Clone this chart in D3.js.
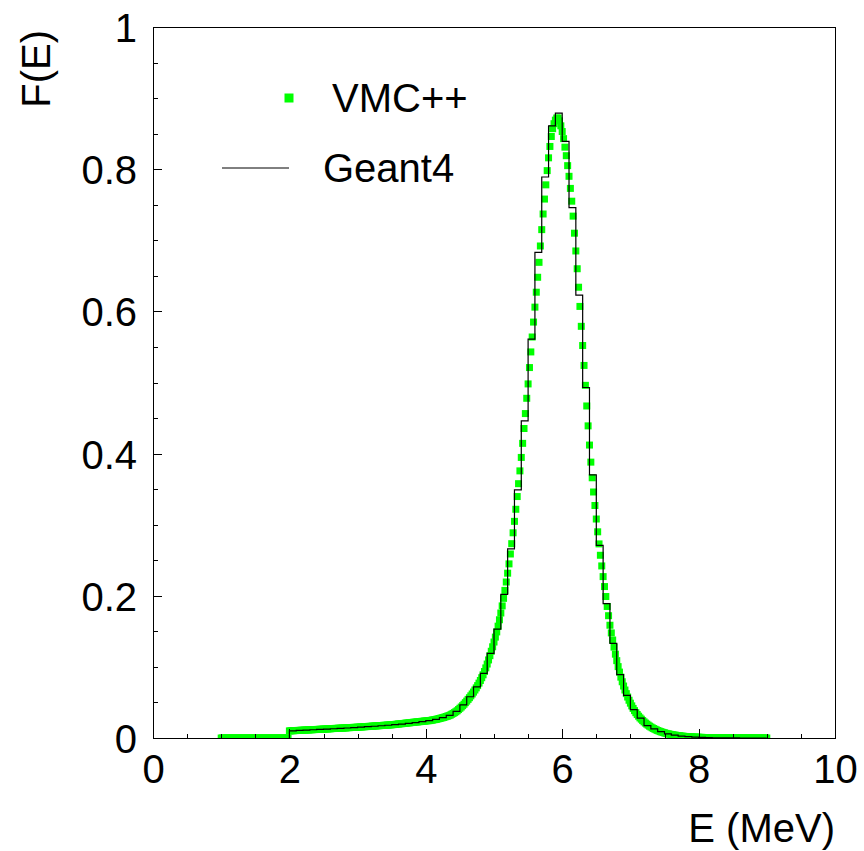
<!DOCTYPE html>
<html>
<head>
<meta charset="utf-8">
<script src="https://cdn.jsdelivr.net/npm/d3@7"></script>
<style>
  html, body { margin: 0; padding: 0; background: #fff; }
  svg { display: block; }
  text { font-family: "Liberation Sans", Arial, Helvetica, sans-serif; fill: #000; }
</style>
</head>
<body>
<svg id="chart" width="864" height="851"></svg>
<script>
// ---------------- data ----------------
const seriesNames = ["VMC++", "Geant4"];
const xTickLabels = ["0", "2", "4", "6", "8", "10"];
const yTickLabels = ["0", "0.2", "0.4", "0.6", "0.8", "1"];
const xTitle = "E (MeV)";
const yTitle = "F(E)";

// VMC++ : points from 1.00 MeV to 9.00 MeV, every 0.02 MeV
const vmcEStart = 1.0;
const vmcEStep = 0.02;
const vmcValues = [
  // 1.00 - 1.98
  0,0,0,0,0,0,0,0,0,0, 0,0,0,0,0,0,0,0,0,0, 0,0,0,0,0,0,0,0,0,0, 0,0,0,0,0,0,0,0,0,0, 0,0,0,0,0,0,0,0,0,0,
  // 2.00 - 2.48
  0.0100,0.0101,0.0102,0.0103,0.0104,0.0105,0.0106,0.0107,0.0108,0.0109,0.0110,0.0111,0.0112,0.0113,0.0114,0.0115,0.0116,0.0117,0.0118,0.0119,0.0120,0.0121,0.0122,0.0123,0.0124,
  // 2.50 - 2.98
  0.0125,0.0126,0.0127,0.0128,0.0129,0.0130,0.0132,0.0133,0.0134,0.0135,0.0136,0.0137,0.0138,0.0139,0.0140,0.0141,0.0142,0.0144,0.0145,0.0146,0.0147,0.0148,0.0149,0.0150,0.0151,
  // 3.00 - 3.48
  0.0152,0.0153,0.0155,0.0156,0.0157,0.0159,0.0160,0.0161,0.0163,0.0164,0.0165,0.0167,0.0168,0.0170,0.0171,0.0172,0.0174,0.0175,0.0176,0.0178,0.0179,0.0180,0.0182,0.0183,0.0185,
  // 3.50 - 3.98
  0.0186,0.0188,0.0190,0.0192,0.0195,0.0197,0.0199,0.0201,0.0203,0.0205,0.0208,0.0210,0.0212,0.0214,0.0216,0.0219,0.0221,0.0223,0.0225,0.0227,0.0229,0.0231,0.0234,0.0236,0.0238,
  // 4.00 - 4.48
  0.0240,0.0242,0.0244,0.0245,0.0249,0.0253,0.0257,0.0260,0.0264,0.0269,0.0274,0.0279,0.0284,0.0289,0.0295,0.0302,0.0308,0.0315,0.0323,0.0334,0.0345,0.0357,0.0369,0.0383,0.0400,
  // 4.50 - 4.98
  0.0418,0.0436,0.0455,0.0475,0.0497,0.0519,0.0543,0.0567,0.0593,0.0619,0.0646,0.0675,0.0705,0.0737,0.0772,0.0809,0.0848,0.0889,0.0935,0.0986,0.1040,0.1098,0.1158,0.1220,0.1283,
  // 5.00 - 5.48
  0.1350,0.1419,0.1492,0.1573,0.1663,0.1758,0.1858,0.1964,0.2076,0.2194,0.2318,0.2449,0.2588,0.2733,0.2886,0.3047,0.3217,0.3396,0.3577,0.3757,0.3946,0.4144,0.4353,0.4563,0.4778,
  // 5.50 - 5.98
  0.498,0.521,0.543,0.564,0.585,0.606,0.627,0.648,0.669,0.692,0.715,0.737,0.758,0.778,0.798,0.816,0.832,0.846,0.857,0.864,0.869,0.872,0.872,0.868,0.861,
  // 6.00 - 6.48
  0.853,0.843,0.831,0.819,0.805,0.790,0.773,0.755,0.734,0.710,0.685,0.660,0.634,0.607,0.579,0.552,0.524,0.496,0.467,0.439,0.412,0.388,0.366,0.346,0.327,
  // 6.50 - 6.98
  0.308,0.290,0.273,0.257,0.242,0.227,0.213,0.199,0.185,0.172,0.1586,0.1478,0.1378,0.1278,0.1179,0.1088,0.1004,0.0927,0.0856,0.0791,0.0731,0.0675,0.0624,0.0576,0.0531,
  // 7.00 - 7.48
  0.0490,0.0452,0.0416,0.0385,0.0356,0.0330,0.0306,0.0283,0.0265,0.0245,0.0227,0.0210,0.0195,0.0181,0.0167,0.0155,0.0143,0.0133,0.0123,0.0114,0.0105,0.0098,0.0090,0.0084,0.0078,
  // 7.50 - 7.98
  0.0072,0.0066,0.0061,0.0057,0.0053,0.0049,0.0045,0.0042,0.0039,0.0036,0.0033,0.0031,0.0028,0.0026,0.0024,0.0022,0.0021,0.0019,0.0018,0.0016,0.0015,0.0014,0.0013,0.0012,0.0011,
  // 8.00 - 8.48
  0.0010,0.0009,0.0009,0.0008,0.0007,0.0007,0.0006,0.0006,0.0005,0.0005,0.0005,0.0004,0.0004,0.0004,0.0003,0.0003,0.0003,0.0003,0.0003,0.0002,0.0002,0.0002,0.0002,0.0002,0.0002,
  // 8.50 - 9.00
  0.0002,0.0002,0.0001,0.0001,0.0001,0.0001,0.0001,0.0001,0.0001,0.0001,0.0001,0.0001,0.0001,0.0001,0.0001,0.0001,0,0,0,0,0,0,0,0,0,0
];

// Geant4 : histogram, bins of 0.1 MeV from 2.0 MeV to 9.0 MeV
const g4BinStart = 2.0;
const g4BinWidth = 0.1;
const g4Values = [
  0.0100,0.0108,0.0112,0.0116,0.0120,0.0125,0.0130,0.0135,0.0141,0.0147,
  0.0153,0.0159,0.0165,0.0172,0.0179,0.0187,0.0196,0.0206,0.0217,0.0229,
  0.0243,0.0262,0.0286,0.0318,0.0375,0.0465,0.058,0.072,0.091,0.119,
  0.153,0.202,0.266,0.349,0.446,0.561,0.683,0.789,0.861,0.879,
  0.839,0.746,0.623,0.493,0.370,0.271,0.189,0.133,0.089,0.060,
  0.040,0.028,0.0175,0.0127,0.0089,0.0058,0.0040,0.0027,0.0018,0.0012,
  0.0008,0.0005,0.0003,0.0002,0.0001,0.0001,0,0,0,0
];

// ---------------- drawing ----------------
const svg = d3.select("#chart");
const FONT = 40;

const x = d3.scaleLinear().domain([0, 10]).range([153, 835]);
const y = d3.scaleLinear().domain([0, 1]).range([738, 27]);

const vmc = vmcValues.map((v, i) => ({ e: vmcEStart + i * vmcEStep, v }));
const g4 = g4Values.map((v, i) => ({ lo: g4BinStart + i * g4BinWidth, hi: g4BinStart + (i + 1) * g4BinWidth, v }));

svg.append("defs").append("clipPath").attr("id", "plotclip")
  .append("rect")
  .attr("x", x(0)).attr("y", y(1))
  .attr("width", x(10) - x(0)).attr("height", y(0) - y(1));

// VMC++ markers
const MS = 7;
svg.append("g").attr("clip-path", "url(#plotclip)")
  .selectAll("rect").data(vmc).join("rect")
  .attr("x", d => x(d.e) - MS / 2)
  .attr("y", d => y(d.v) - MS / 2)
  .attr("width", MS).attr("height", MS)
  .attr("fill", "#00ff00");

// Geant4 histogram (step line)
const stepPts = [[g4[0].lo, 0]];
g4.forEach(b => { stepPts.push([b.lo, b.v]); stepPts.push([b.hi, b.v]); });
svg.append("path")
  .datum(stepPts)
  .attr("d", d3.line().x(d => x(d[0])).y(d => y(d[1])))
  .attr("fill", "none")
  .attr("stroke", "#000")
  .attr("stroke-width", 1.2);

// Axes: minor and major ticks inside the frame
const xMinor = d3.range(0, 10.001, 0.5);
const xMajor = [0, 2, 4, 6, 8, 10];
const yMinor = d3.range(0, 1.0001, 0.05);
const yMajor = [0, 0.2, 0.4, 0.6, 0.8, 1];

const gxMinor = svg.append("g").attr("transform", `translate(0,${y(0)})`)
  .call(d3.axisBottom(x).tickValues(xMinor).tickSize(-4.5).tickFormat(""));
const gxMajor = svg.append("g").attr("transform", `translate(0,${y(0)})`)
  .call(d3.axisBottom(x).tickValues(xMajor).tickSize(-9).tickFormat((d, i) => xTickLabels[i]));
const gyMinor = svg.append("g").attr("transform", `translate(${x(0)},0)`)
  .call(d3.axisLeft(y).tickValues(yMinor).tickSize(-4.5).tickFormat(""));
const gyMajor = svg.append("g").attr("transform", `translate(${x(0)},0)`)
  .call(d3.axisLeft(y).tickValues(yMajor).tickSize(-9).tickPadding(16).tickFormat((d, i) => yTickLabels[i]));

[gxMinor, gxMajor, gyMinor, gyMajor].forEach(g => {
  g.select(".domain").remove();
  g.selectAll(".tick line").attr("stroke", "#000").attr("stroke-width", 1).attr("shape-rendering", "crispEdges");
});
gxMajor.selectAll(".tick text")
  .attr("y", 45).attr("dy", 0)
  .style("font-size", FONT + "px")
  .style("font-family", '"Liberation Sans", Arial, sans-serif')
  .attr("fill", "#000");
gyMajor.selectAll(".tick text")
  .attr("dy", "0.36em")
  .style("font-size", FONT + "px")
  .style("font-family", '"Liberation Sans", Arial, sans-serif')
  .attr("fill", "#000");

// Frame
svg.append("rect")
  .attr("x", x(0)).attr("y", y(1))
  .attr("width", x(10) - x(0)).attr("height", y(0) - y(1))
  .attr("fill", "none").attr("stroke", "#000").attr("stroke-width", 1)
  .attr("shape-rendering", "crispEdges");

// Axis titles
svg.append("text")
  .attr("x", 835).attr("y", 842)
  .attr("text-anchor", "end")
  .style("font-size", FONT + "px")
  .text(xTitle);
svg.append("text")
  .attr("transform", "translate(50,30) rotate(-90)")
  .attr("text-anchor", "end")
  .style("font-size", FONT + "px")
  .text(yTitle);

// Legend
const leg = svg.append("g");
leg.append("rect")
  .attr("x", 289 - 4.5).attr("y", 98 - 4.5).attr("width", 9).attr("height", 9)
  .attr("fill", "#00ff00");
leg.append("text").attr("x", 332).attr("y", 112)
  .style("font-size", FONT + "px").text(seriesNames[0]);
leg.append("line")
  .attr("x1", 222).attr("x2", 289).attr("y1", 168).attr("y2", 168)
  .attr("stroke", "#000").attr("stroke-width", 1);
leg.append("text").attr("x", 323).attr("y", 182)
  .style("font-size", FONT + "px").text(seriesNames[1]);
</script>
</body>
</html>
